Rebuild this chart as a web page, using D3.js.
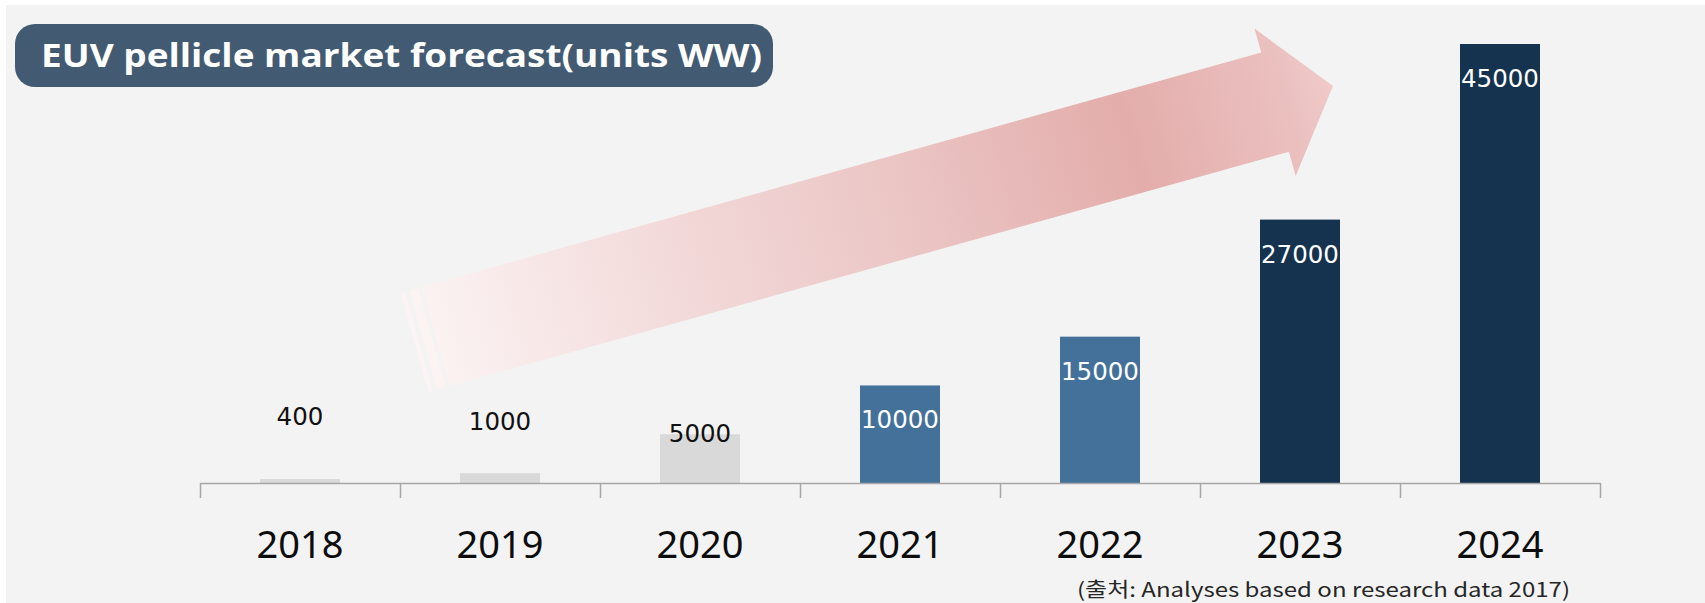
<!DOCTYPE html>
<html>
<head>
<meta charset="utf-8">
<script src="https://cdn.jsdelivr.net/npm/d3@7"></script>
<style>
  body { margin: 0; background: #ffffff; }
  svg { display: block; }
</style>
</head>
<body>
<div id="wrapper"></div>
<script>
const years = ["2018", "2019", "2020", "2021", "2022", "2023", "2024"];
const units = [400, 1000, 5000, 10000, 15000, 27000, 45000];
const tones = ["light", "light", "light", "mid", "mid", "dark", "dark"];
const titleText = "EUV pellicle market forecast(units WW)";
const sourceText = "(출처: Analyses based on research data 2017)";

// label baseline offset from bar top (px)
const labelShift = [-54, -43, 8, 43, 43, 43, 43];

function drawChart() {
    const dimensions = {
        width: 1705,
        height: 603,
        axisY: 483,
        topY: 44,
        left: 200,
        right: 1600
    };

    const toneColor = { light: "#d9d9d9", mid: "#44719a", dark: "#15334f" };
    const labelColor = { light: "#111111", mid: "#ffffff", dark: "#ffffff" };

    const data = years.map((y, i) => ({ year: y, value: units[i], tone: tones[i], shift: labelShift[i] }));

    const svg = d3.select("#wrapper")
        .append("svg")
        .attr("width", dimensions.width)
        .attr("height", dimensions.height);

    svg.append("rect")
        .attr("x", 6).attr("y", 5)
        .attr("width", dimensions.width - 6)
        .attr("height", dimensions.height - 5)
        .attr("fill", "#f3f3f3");

    // big striped arrow in the background
    const defs = svg.append("defs");
    const arrowLen = 953.6;
    const grad = defs.append("linearGradient")
        .attr("id", "arrowGrad")
        .attr("gradientUnits", "userSpaceOnUse")
        .attr("x1", 0).attr("y1", 0)
        .attr("x2", arrowLen).attr("y2", 0);
    [[0, "#fcf4f4"], [0.31, "#f2d7d7"], [0.55, "#eac4c3"], [0.78, "#e3adab"], [0.94, "#eabfbe"], [1, "#efcac9"]]
        .forEach(s => grad.append("stop").attr("offset", s[0]).attr("stop-color", s[1]));

    const h = 51.5, H = 76.5, headBase = 893.5;
    const arrow = svg.append("g")
        .attr("transform", "translate(414.5,342.5) rotate(-15.6)");
    arrow.append("path")
        .attr("d", `M22,${-h} L${headBase},${-h} L${headBase},${-H} L${arrowLen},0 L${headBase},${H} L${headBase},${h} L22,${h} Z`)
        .attr("fill", "url(#arrowGrad)");
    arrow.append("rect").attr("x", 0).attr("y", -h).attr("width", 4.5).attr("height", 2 * h).attr("fill", "url(#arrowGrad)");
    arrow.append("rect").attr("x", 9).attr("y", -h).attr("width", 9.5).attr("height", 2 * h).attr("fill", "url(#arrowGrad)");

    // scales
    const xScale = d3.scaleBand()
        .domain(years)
        .range([dimensions.left, dimensions.right])
        .paddingInner(0.6)
        .paddingOuter(0.3);

    const edgeScale = d3.scaleLinear()
        .domain([0, years.length])
        .range([dimensions.left, dimensions.right]);

    const yScale = d3.scaleLinear()
        .domain([0, 45000])
        .range([dimensions.axisY, dimensions.topY]);

    // bars
    svg.append("g")
        .selectAll("rect")
        .data(data)
        .join("rect")
        .attr("x", d => xScale(d.year))
        .attr("y", d => yScale(d.value))
        .attr("width", xScale.bandwidth())
        .attr("height", d => yScale(0) - yScale(d.value))
        .attr("fill", d => toneColor[d.tone]);

    // axis line with ticks at the band edges
    const tickAxis = svg.append("g")
        .attr("transform", `translate(0,${dimensions.axisY})`)
        .call(d3.axisBottom(edgeScale)
            .ticks(years.length)
            .tickValues(d3.range(years.length + 1))
            .tickSize(15)
            .tickSizeOuter(0)
            .tickFormat(""));
    tickAxis.selectAll("path, line")
        .attr("stroke", "#a6a6a6")
        .attr("stroke-width", 1.5);

    // category labels
    const labelAxis = svg.append("g")
        .attr("transform", `translate(0,${dimensions.axisY})`)
        .call(d3.axisBottom(xScale).tickSize(0));
    labelAxis.select(".domain").remove();
    labelAxis.selectAll("text")
        .attr("y", 75)
        .attr("dy", 0)
        .attr("fill", "#0d0d0d")
        .style("font-family", "'Noto Sans', 'Open Sans', sans-serif")
        .style("font-size", "38px");

    // value labels
    svg.append("g")
        .selectAll("text")
        .data(data)
        .join("text")
        .attr("x", d => xScale(d.year) + xScale.bandwidth() / 2)
        .attr("y", d => yScale(d.value) + d.shift)
        .attr("text-anchor", "middle")
        .attr("fill", d => labelColor[d.tone])
        .style("font-family", "'DejaVu Sans', sans-serif")
        .style("font-size", "24.5px")
        .text(d => d.value);

    // title badge
    svg.append("rect")
        .attr("x", 15).attr("y", 24)
        .attr("width", 758).attr("height", 63)
        .attr("rx", 20).attr("ry", 20)
        .attr("fill", "#425a72");
    const title = svg.append("text")
        .attr("x", 41).attr("y", 67)
        .attr("fill", "#ffffff")
        .style("font-family", "'Open Sans', 'Noto Sans', sans-serif")
        .style("font-weight", "bold")
        .style("font-size", "33px")
        .text(titleText);
    const tw = title.node().getComputedTextLength();
    if (Math.abs(tw - 721) > 4) title.attr("textLength", 721).attr("lengthAdjust", "spacingAndGlyphs");

    // source note
    const source = svg.append("text")
        .attr("x", 1077).attr("y", 597)
        .attr("fill", "#262626")
        .style("font-family", "'Noto Sans CJK KR', 'Noto Sans', sans-serif")
        .style("font-size", "20px")
        .text(sourceText);
    const sw = source.node().getComputedTextLength();
    if (Math.abs(sw - 493) > 4) source.attr("textLength", 493).attr("lengthAdjust", "spacingAndGlyphs");
}

drawChart();
</script>
</body>
</html>
